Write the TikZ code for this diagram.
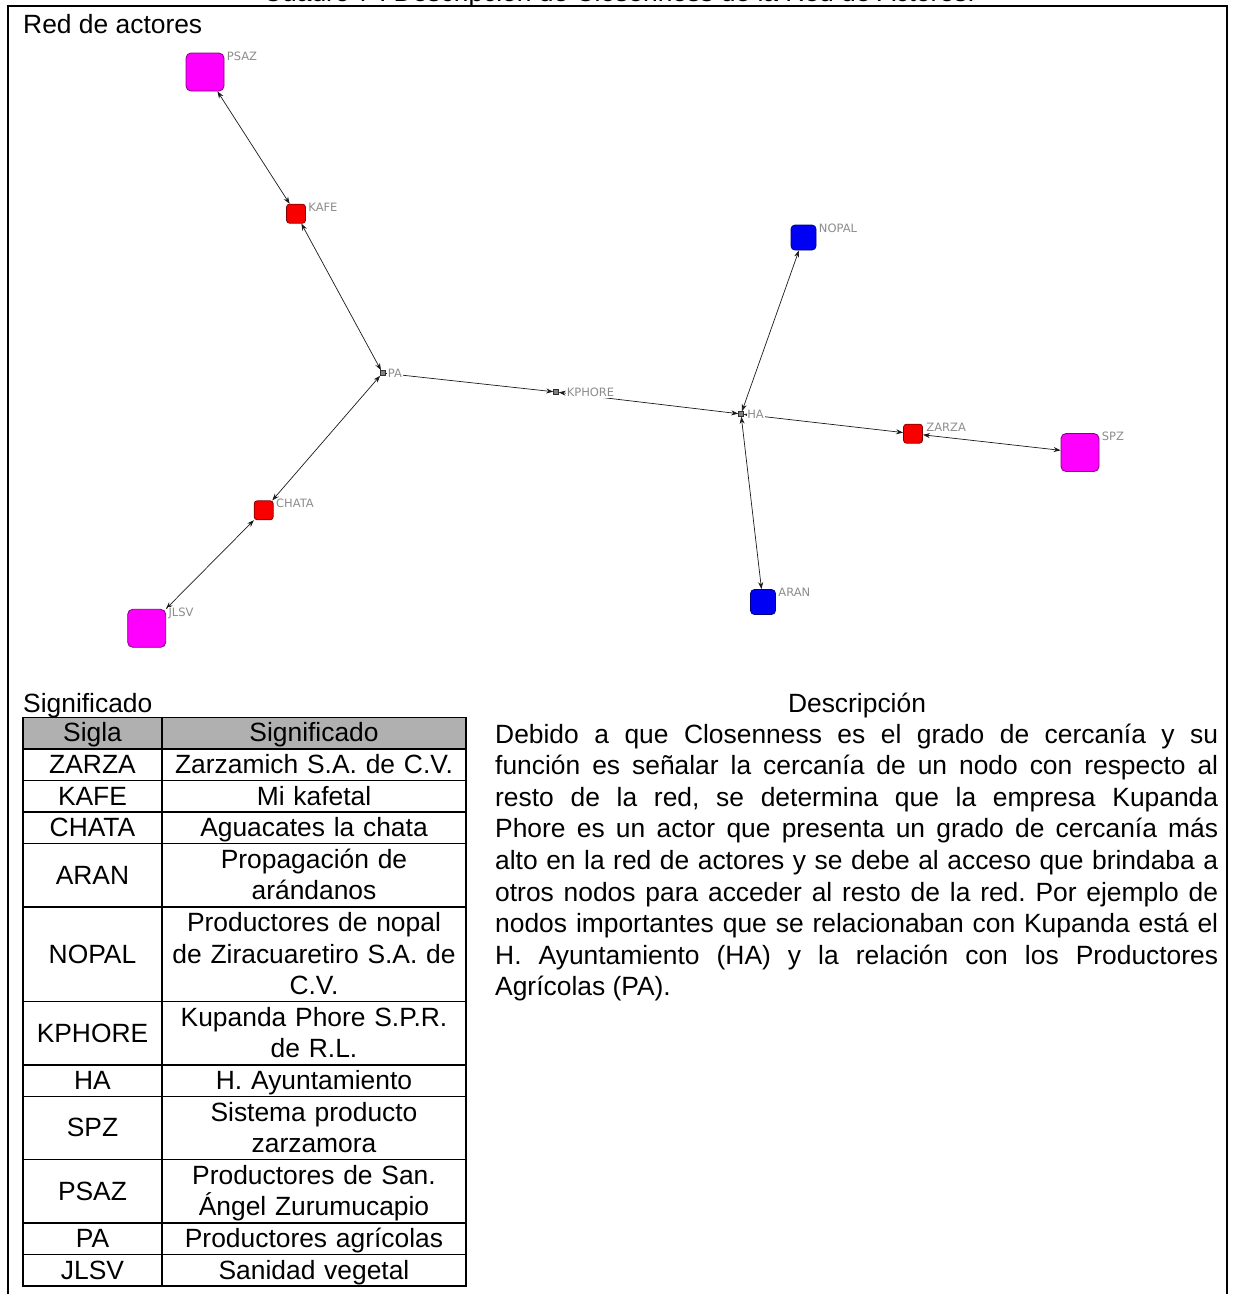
\documentclass[tikz,border=0pt]{standalone}
\usepackage{fontspec}
\setmainfont{Liberation Sans}
\newfontfamily\lblfont{DejaVu Sans}
\usetikzlibrary{arrows.meta,calc}
\definecolor{mag}{HTML}{FF00FF}
\definecolor{magline}{HTML}{800080}
\definecolor{redf}{HTML}{F80000}
\definecolor{redline}{HTML}{800000}
\definecolor{bluef}{HTML}{0000F5}
\definecolor{blueline}{HTML}{000080}
\definecolor{tinyf}{HTML}{808080}
\definecolor{tinyline}{HTML}{303030}
\definecolor{lblgray}{HTML}{8C8C8C}
\definecolor{edgec}{HTML}{1A1A1A}
\definecolor{hdr}{HTML}{B0B0B0}
\frenchspacing
\begin{document}
\begin{tikzpicture}[x=1pt,y=-1pt,
  bignode/.style={draw=magline,fill=mag,line width=0.8pt,rounded corners=5pt,minimum size=38pt,inner sep=0pt},
  rednode/.style={draw=redline,fill=redf,line width=0.8pt,rounded corners=3pt,minimum size=19pt,inner sep=0pt},
  bluenode/.style={draw=blueline,fill=bluef,line width=0.8pt,rounded corners=4pt,minimum size=25pt,inner sep=0pt},
  tinynode/.style={draw=tinyline,fill=tinyf,line width=0.6pt,minimum size=5pt,inner sep=0pt},
  lbl/.style={font=\lblfont\fontsize{11.5}{13}\selectfont,text=lblgray,fill=white,inner sep=0.8pt,anchor=north west},
  link/.style={line width=0.7pt,draw=edgec,>={Stealth[length=7pt,width=5pt]},<->},
  txt/.style={font=\fontsize{26.4}{31.6}\selectfont\frenchspacing,inner sep=0pt},
  signcell/.style={txt,anchor=base,text width=300pt,align=center},
  siglacell/.style={txt,anchor=base},
  tbl/.style={line width=1.5pt,draw=black},
  frame/.style={line width=1.6pt,draw=black}
]
\useasboundingbox (0,0) rectangle (1233,1294);

% title (cut at top) and frame
\node[txt,anchor=base] (title) at (619,1.5) {Cuadro 7 . Descripción de Closenness de la Red de Actores.};
\draw[frame] (8,1294) -- (8,6) -- (1227,6) -- (1227,1294);

\node[txt,anchor=base west] (redact) at (23,33) {Red de actores};

% graph nodes
\node[bignode] (psaz) at (205,72) {};
\node[rednode] (kafe) at (296,213.7) {};
\node[tinynode] (pa) at (382.5,373) {};
\node[rednode] (chata) at (263.7,510.3) {};
\node[bignode] (jlsv) at (146.7,628.3) {};
\node[tinynode] (kphore) at (556,392) {};
\node[tinynode] (ha) at (741,414) {};
\node[bluenode] (nopal) at (803.5,237.5) {};
\node[bluenode] (aran) at (763,602) {};
\node[rednode] (zarza) at (913,433.7) {};
\node[bignode] (spz) at (1080,452.5) {};

% edges
\draw[link] (psaz) -- (kafe);
\draw[link] (kafe) -- (pa);
\draw[link] (chata) -- (pa);
\draw[link] (jlsv) -- (chata);
\draw[link] (pa) -- (kphore);
\draw[link] (ha) -- (kphore);
\draw[link] (ha) -- (nopal);
\draw[link] (ha) -- (aran);
\draw[link] (ha) -- (zarza);
\draw[link] (zarza) -- (spz);

% labels
\node[lbl] (lpsaz) at ($(psaz.north east)+(1.5,-2)$) {PSAZ};
\node[lbl] (lkafe) at ($(kafe.north east)+(1.5,-2)$) {KAFE};
\node[lbl] (lpa) at ($(pa.north east)+(1.5,-2)$) {PA};
\node[lbl] (lchata) at ($(chata.north east)+(1.5,-2)$) {CHATA};
\node[lbl] (ljlsv) at ($(jlsv.north east)+(1.5,-2)$) {JLSV};
\node[lbl] (lkphore) at ($(kphore.north east)+(7,-2)$) {KPHORE};
\node[lbl] (lha) at ($(ha.north east)+(2.5,-2)$) {HA};
\node[lbl] (lnopal) at ($(nopal.north east)+(1.5,-2)$) {NOPAL};
\node[lbl] (laran) at ($(aran.north east)+(1.5,-2)$) {ARAN};
\node[lbl] (lzarza) at ($(zarza.north east)+(2.5,-2)$) {ZARZA};
\node[lbl] (lspz) at ($(spz.north east)+(1.5,-2)$) {SPZ};

% headings
\node[txt,anchor=base west] (signif) at (23,712.5) {Significado};
\node[txt,anchor=base] (descr) at (857,712.5) {Descripción};

% table
\fill[hdr] (23,717.3) rectangle (466,748.9);
\draw[tbl] (23,717.3) rectangle (466,1286.1);
\draw[tbl] (162,717.3) -- (162,1286.1);
\foreach \yy in {748.9,780.5,812.1,843.7,906.9,1001.7,1064.9,1096.5,1159.7,1222.9,1254.5}
  \draw[tbl] (23,\yy) -- (466,\yy);

\node[siglacell] (s0) at (92.5,741.8) {Sigla};
\node[signcell] (m0) at (314,741.8) {Significado};
\node[siglacell] (s1) at (92.5,773.4) {ZARZA};
\node[signcell] (m1) at (314,773.4) {Zarzamich S.A. de C.V.};
\node[siglacell] (s2) at (92.5,805.0) {KAFE};
\node[signcell] (m2) at (314,805.0) {Mi kafetal};
\node[siglacell] (s3) at (92.5,836.6) {CHATA};
\node[signcell] (m3) at (314,836.6) {Aguacates la chata};
\node[siglacell] (s4) at (92.5,884.0) {ARAN};
\node[signcell] (m4) at (314,868.2) {Propagación de\\arándanos};
\node[siglacell] (s5) at (92.5,963.0) {NOPAL};
\node[signcell] (m5) at (314,931.4) {Productores de nopal\\de Ziracuaretiro S.A. de\\C.V.};
\node[siglacell] (s6) at (92.5,1042.0) {KPHORE};
\node[signcell] (m6) at (314,1026.2) {Kupanda Phore S.P.R.\\de R.L.};
\node[siglacell] (s7) at (92.5,1089.4) {HA};
\node[signcell] (m7) at (314,1089.4) {H. Ayuntamiento};
\node[siglacell] (s8) at (92.5,1136.8) {SPZ};
\node[signcell] (m8) at (314,1121.0) {Sistema producto\\zarzamora};
\node[siglacell] (s9) at (92.5,1200.0) {PSAZ};
\node[signcell] (m9) at (314,1184.2) {Productores de San.\\Ángel Zurumucapio};
\node[siglacell] (s10) at (92.5,1247.4) {PA};
\node[signcell] (m10) at (314,1247.4) {Productores agrícolas};
\node[siglacell] (s11) at (92.5,1279.0) {JLSV};
\node[signcell] (m11) at (314,1279.0) {Sanidad vegetal};

% description paragraph
\node[txt,anchor=base west,text width=723pt,align=justify] (para) at (495,743)
{Debido a que Closenness es el grado de cercanía y su\linebreak
función es señalar la cercanía de un nodo con respecto al\linebreak
resto de la red, se determina que la empresa Kupanda\linebreak
Phore es un actor que presenta un grado de cercanía más\linebreak
alto en la red de actores y se debe al acceso que brindaba a\linebreak
otros nodos para acceder al resto de la red. Por ejemplo de\linebreak
nodos importantes que se relacionaban con Kupanda está el\linebreak
H. Ayuntamiento (HA) y la relación con los Productores\linebreak
Agrícolas (PA).};
\end{tikzpicture}
\end{document}
